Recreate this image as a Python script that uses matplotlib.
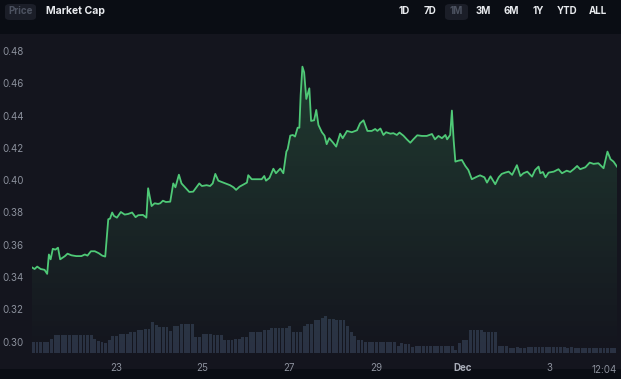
import matplotlib
matplotlib.use("Agg")
import matplotlib.pyplot as plt
import numpy as np
from matplotlib.patches import Rectangle, FancyBboxPatch
from matplotlib.colors import LinearSegmentedColormap

# price series: time in days (Nov date, Dec 1 = 31), price in USD
days = [21.06, 21.12, 21.18, 21.26, 21.35, 21.41, 21.45, 21.49, 21.54, 21.60,
        21.66, 21.71, 21.75, 21.82, 21.88, 21.97, 22.08, 22.20, 22.28, 22.34,
        22.42, 22.51, 22.60, 22.68, 22.75, 22.82, 22.86, 22.91, 22.95, 23.02,
        23.11, 23.20, 23.28, 23.37, 23.45, 23.51, 23.62, 23.70, 23.74, 23.82,
        23.89, 23.97, 24.02, 24.08, 24.15, 24.25, 24.32, 24.37, 24.45, 24.51,
        24.59, 24.69, 24.78, 24.92, 24.98, 25.09, 25.17, 25.23, 25.29, 25.36,
        25.52, 25.63, 25.71, 25.77, 25.85, 25.94, 26.02, 26.05, 26.13, 26.25,
        26.36, 26.42, 26.46, 26.54, 26.63, 26.69, 26.79, 26.86, 26.93, 26.96,
        27.02, 27.08, 27.13, 27.19, 27.23, 27.26, 27.30, 27.34, 27.39, 27.46,
        27.50, 27.57, 27.62, 27.67, 27.75, 27.81, 27.86, 27.92, 28.00, 28.08,
        28.17, 28.23, 28.33, 28.44, 28.56, 28.63, 28.71, 28.80, 28.90, 28.98,
        29.03, 29.10, 29.17, 29.23, 29.33, 29.40, 29.48, 29.54, 29.63, 29.71,
        29.79, 29.86, 29.95, 30.06, 30.17, 30.29, 30.36, 30.44, 30.52, 30.60,
        30.64, 30.71, 30.75, 30.79, 30.83, 30.90, 30.98, 31.06, 31.13, 31.21,
        31.33, 31.40, 31.50, 31.56, 31.64, 31.70, 31.75, 31.83, 31.90, 31.98,
        32.06, 32.14, 32.25, 32.33, 32.40, 32.49, 32.60, 32.67, 32.75, 32.79,
        32.85, 32.91, 32.98, 33.10, 33.21, 33.29, 33.40, 33.48, 33.56, 33.64,
        33.71, 33.83, 33.93, 34.02, 34.13, 34.25, 34.34, 34.41, 34.48, 34.56]
price = [0.3460, 0.3450, 0.3465, 0.3450, 0.3445, 0.3420, 0.3540, 0.3510, 0.3575, 0.3570,
         0.3582, 0.3510, 0.3517, 0.3530, 0.3545, 0.3535, 0.3530, 0.3530, 0.3540, 0.3533,
         0.3560, 0.3560, 0.3548, 0.3533, 0.3527, 0.3758, 0.3762, 0.3800, 0.3779, 0.3768,
         0.3803, 0.3787, 0.3791, 0.3800, 0.3771, 0.3783, 0.3785, 0.3768, 0.3950, 0.3840,
         0.3857, 0.3853, 0.3857, 0.3873, 0.3865, 0.3867, 0.3980, 0.3956, 0.4034, 0.3980,
         0.3956, 0.3927, 0.3929, 0.3980, 0.3964, 0.3969, 0.3964, 0.3980, 0.4039, 0.3997,
         0.3980, 0.3969, 0.3956, 0.3940, 0.3960, 0.3973, 0.3985, 0.4031, 0.4006, 0.4006,
         0.4006, 0.4026, 0.3997, 0.4014, 0.4071, 0.4043, 0.4072, 0.4043, 0.4177, 0.4192,
         0.4276, 0.4280, 0.4270, 0.4325, 0.4325, 0.4528, 0.4703, 0.4668, 0.4503, 0.4569,
         0.4367, 0.4371, 0.4435, 0.4342, 0.4297, 0.4276, 0.4223, 0.4260, 0.4235, 0.4208,
         0.4288, 0.4260, 0.4305, 0.4297, 0.4309, 0.4352, 0.4371, 0.4305, 0.4305, 0.4317,
         0.4305, 0.4320, 0.4280, 0.4297, 0.4288, 0.4291, 0.4280, 0.4295, 0.4276, 0.4253,
         0.4232, 0.4253, 0.4278, 0.4274, 0.4274, 0.4286, 0.4253, 0.4274, 0.4260, 0.4280,
         0.4253, 0.4280, 0.4431, 0.4249, 0.4115, 0.4121, 0.4125, 0.4088, 0.4063, 0.4006,
         0.4022, 0.4030, 0.4018, 0.3985, 0.4024, 0.3997, 0.3975, 0.4018, 0.4039, 0.4047,
         0.4053, 0.4033, 0.4093, 0.4026, 0.4043, 0.4053, 0.4022, 0.4063, 0.4084, 0.4043,
         0.4051, 0.4018, 0.4047, 0.4053, 0.4068, 0.4043, 0.4059, 0.4051, 0.4068, 0.4088,
         0.4068, 0.4080, 0.4109, 0.4101, 0.4105, 0.4074, 0.4177, 0.4130, 0.4115, 0.4084]

# volume, one bar every 2 hours starting at vol_start (millions USD)
vol_start = 21.06
vol = [1.07, 1.07, 1.07, 1.07, 1.07, 1.40, 1.83, 1.83, 1.84, 1.83,
       1.82, 1.83, 1.84, 1.83, 1.83, 1.82, 1.83, 1.40, 1.16, 1.10,
       1.00, 1.26, 1.66, 1.66, 1.90, 1.90, 1.90, 2.06, 2.06, 2.26,
       2.26, 2.40, 2.45, 3.15, 2.83, 2.60, 2.60, 2.60, 2.16, 2.73,
       2.73, 2.93, 2.93, 2.93, 2.93, 1.60, 1.60, 1.93, 1.93, 1.93,
       1.83, 1.83, 1.83, 1.33, 1.33, 1.33, 1.40, 1.40, 1.60, 1.60,
       2.06, 2.06, 2.06, 2.06, 2.26, 2.26, 2.50, 2.50, 2.50, 2.46,
       2.46, 2.66, 2.06, 2.06, 2.06, 2.73, 2.93, 2.93, 3.26, 3.26,
       3.50, 3.73, 3.40, 3.40, 3.26, 3.26, 3.26, 2.73, 2.13, 1.66,
       1.26, 1.26, 1.06, 1.06, 1.06, 1.06, 1.06, 1.06, 1.06, 1.06,
       1.06, 0.66, 1.00, 0.90, 0.90, 0.60, 0.66, 0.66, 0.66, 0.66,
       0.66, 0.66, 0.66, 0.66, 0.66, 0.66, 0.66, 0.33, 1.00, 1.33,
       1.33, 2.26, 2.26, 2.26, 2.26, 2.06, 2.06, 2.06, 2.06, 0.66,
       0.66, 0.66, 0.55, 0.55, 0.58, 0.55, 0.55, 0.60, 0.60, 0.60,
       0.58, 0.60, 0.60, 0.60, 0.60, 0.58, 0.60, 0.60, 0.55, 0.58,
       0.46, 0.46, 0.46, 0.46, 0.46, 0.46, 0.50, 0.50, 0.50, 0.50,
       0.50, 0.50, 0.50]

y_ticks = [0.30, 0.32, 0.34, 0.36, 0.38, 0.40, 0.42, 0.44, 0.46, 0.48]
x_ticks = [23, 25, 27, 29, 31, 33]
x_labels = ["23", "25", "27", "29", "Dec", "3"]
last_label = "12:04"
ranges = ["1D", "7D", "1M", "3M", "6M", "1Y", "YTD", "ALL"]

BG = "#14151e"
DARK = "#0a0d14"
GREEN = "#4fc977"
TXT = "#8b909c"

plt.rcParams['font.family'] = ['Inter', 'DejaVu Sans']

W, H = 621, 379
fig = plt.figure(figsize=(W / 100, H / 100), dpi=100, facecolor=DARK)
fig.patches.append(Rectangle((0, 10 / H), 1, 335 / H, transform=fig.transFigure,
                             facecolor=BG, edgecolor="none", zorder=-5))

ax = fig.add_axes([32 / W, 26 / H, 585 / W, 318 / H])
ax.set_facecolor("none")

# volume bars on their own scale
axv = ax.twinx()
axv.set_ylim(0, 31.8)
vx = [vol_start + i / 12 for i in range(len(vol))]
axv.bar(vx, vol, width=0.066, align="edge", color="#2a3243", linewidth=0, zorder=1)
axv.set_axis_off()
axv.set_zorder(0)
ax.set_zorder(1)

# gradient fill under the line
fill = ax.fill_between(days, price, 0.293, facecolor="none", linewidth=0)
grad = np.linspace(0, 1, 256).reshape(-1, 1)
cmap = LinearSegmentedColormap.from_list("g", [(0.31, 0.79, 0.47, 0.0),
                                               (0.31, 0.79, 0.47, 0.21)])
img = ax.imshow(grad, aspect="auto", cmap=cmap, origin="lower",
                extent=[21.06, 34.56, 0.293, 0.47], zorder=2)
img.set_clip_path(fill.get_paths()[0], transform=ax.transData)
ax.set_xlim(21.06, 34.56)
ax.set_ylim(0.293, 0.4899)
axv.set_xlim(21.06, 34.56)

ax.plot(days, price, color=GREEN, linewidth=1.3, zorder=3, solid_joinstyle="round")

for s in ax.spines.values():
    s.set_visible(False)
ax.set_yticks(y_ticks)
ax.set_yticklabels([f"{v:.2f}" for v in y_ticks])
ax.tick_params(axis="y", length=0, pad=6, labelsize=7, labelcolor=TXT)
ax.set_xticks(x_ticks)
ax.set_xticklabels(x_labels)
ax.tick_params(axis="x", length=0, pad=7, labelsize=7, labelcolor=TXT)
for lab in ax.get_xticklabels():
    if lab.get_text() == "Dec":
        lab.set_fontweight("bold")
        lab.set_color("#a9adb8")
ax.text(1.0, -0.055, last_label, transform=ax.transAxes, ha="right", va="center",
        fontsize=7, color=TXT)

# header buttons
fig.patches.append(FancyBboxPatch((5 / W, (H - 20) / H), 31 / W, 16 / H,
                                  boxstyle="round,pad=0,rounding_size=0.008",
                                  transform=fig.transFigure, facecolor="#1b1e28",
                                  edgecolor="none"))
fig.text(20.5 / W, 1 - 11.5 / H, "Price", ha="center", va="center", fontsize=7,
         color="#4c5260", fontweight="bold")
fig.text(46 / W, 1 - 11.5 / H, "Market Cap", ha="left", va="center", fontsize=7.5,
         color="#e8eaee", fontweight="bold")
centers = [404, 430, 456, 483, 511, 538, 567, 598]
fig.patches.append(FancyBboxPatch((445 / W, (H - 20) / H), 23 / W, 16 / H,
                                  boxstyle="round,pad=0,rounding_size=0.008",
                                  transform=fig.transFigure, facecolor="#1b1e28",
                                  edgecolor="none"))
for c, r in zip(centers, ranges):
    col = "#4c5260" if r == "1M" else "#e8eaee"
    fig.text(c / W, 1 - 11.5 / H, r, ha="center", va="center", fontsize=7,
             color=col, fontweight="bold")

fig.savefig("out.png", dpi=100, facecolor=DARK)
